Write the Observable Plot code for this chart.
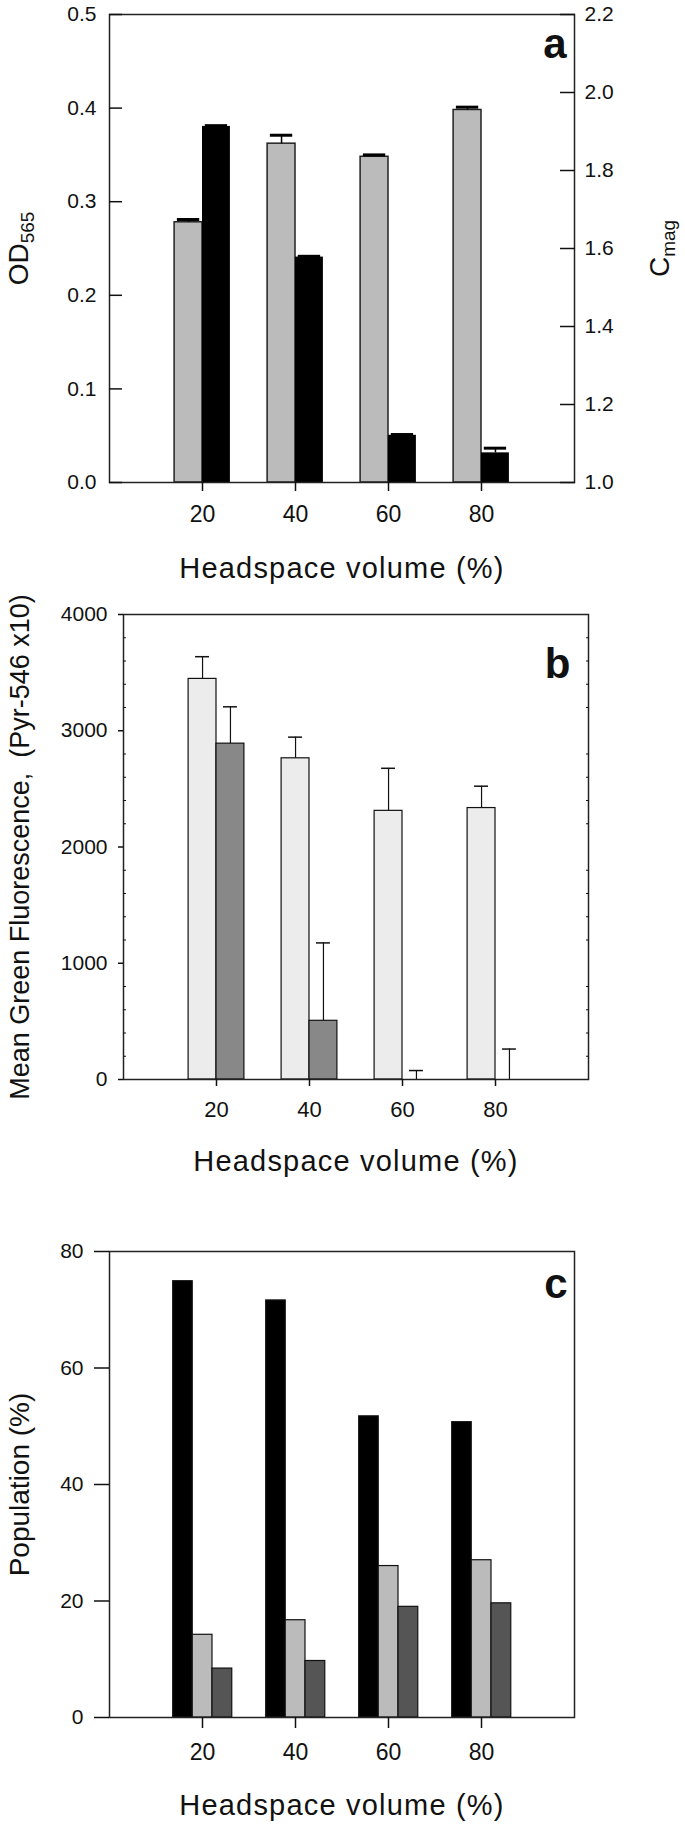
<!DOCTYPE html>
<html><head><meta charset="utf-8">
<script src="https://cdn.jsdelivr.net/npm/d3@7"></script>
<script src="https://cdn.jsdelivr.net/npm/@observablehq/plot@0.6"></script>
<style>
body{margin:0;background:#fff;}
#wrap{width:685px;}
#wrap svg{display:block;overflow:visible;}
</style></head><body><div id="wrap"></div>
<script>
// ---------- data ----------
const headspace = [20, 40, 60, 80];
const xTicks = [20, 40, 60, 80];
// Panel a
const odValues   = [0.278, 0.362, 0.348, 0.398];
const odErrors   = [0.003, 0.009, 0.002, 0.003];
const cmagValues = [1.913, 1.578, 1.121, 1.076];
const cmagErrors = [0.002, 0.002, 0.002, 0.012];
const odTicks    = [0, 0.1, 0.2, 0.3, 0.4, 0.5];
const cmagTicks  = [1.0, 1.2, 1.4, 1.6, 1.8, 2.0, 2.2];
// Panel b
const fluorLight    = [3446, 2763, 2311, 2335];
const fluorLightErr = [191, 182, 366, 188];
const fluorDark     = [2889, 505, 0, 0];
const fluorDarkErr  = [317, 670, 77, 262];
const fluorTicks    = [0, 1000, 2000, 3000, 4000];
const fluorMinor    = [200,400,600,800,1200,1400,1600,1800,2200,2400,2600,2800,3200,3400,3600,3800];
// Panel c
const popBlack = [74.9, 71.6, 51.7, 50.7];
const popLight = [14.2, 16.7, 26.0, 27.0];
const popDark  = [8.4, 9.7, 19.0, 19.6];
const popTicks = [0, 20, 40, 60, 80];

const xTitle = "Headspace volume (%)";
const FONT = "'Liberation Sans', Arial, sans-serif";
const wrap = document.getElementById("wrap");

// ---------- panel a ----------
const toOD = c => (c - 1) / 1.2 * 0.5;
const rowsA = headspace.map((h, i) => ({h, od: odValues[i], odE: odErrors[i], c: cmagValues[i], cE: cmagErrors[i]}));
const plotA = Plot.plot({
  width: 685, height: 600, marginTop: 14, marginBottom: 118, marginLeft: 109, marginRight: 111,
  style: {fontFamily: FONT, color: "#111", background: "#fff", overflow: "visible"},
  x: {domain: [0, 100]}, y: {domain: [0, 0.5]},
  marks: [
    Plot.rect(rowsA, {x1: d => d.h - 6, x2: d => d.h, y1: 0, y2: "od", fill: "#bbbbbb", stroke: "#222", strokeWidth: 1.5}),
    Plot.rect(rowsA, {x1: d => d.h, x2: d => d.h + 6, y1: 0, y2: d => toOD(d.c), fill: "#000"}),
    Plot.ruleX(rowsA, {x: d => d.h - 3, y1: "od", y2: d => d.od + d.odE, stroke: "#000", strokeWidth: 1.5}),
    Plot.ruleY(rowsA, {y: d => d.od + d.odE, x1: d => d.h - 5.4, x2: d => d.h - 0.6, stroke: "#000", strokeWidth: 3}),
    Plot.ruleX(rowsA, {x: d => d.h + 3, y1: d => toOD(d.c), y2: d => toOD(d.c + d.cE), stroke: "#000", strokeWidth: 1.5}),
    Plot.ruleY(rowsA, {y: d => toOD(d.c + d.cE), x1: d => d.h + 0.6, x2: d => d.h + 5.4, stroke: "#000", strokeWidth: 3}),
    Plot.frame({stroke: "#222", strokeWidth: 1.5}),
    Plot.axisY(odTicks, {tickSize: -13, tickFormat: () => "", label: null, strokeWidth: 1.5}),
    Plot.axisY(odTicks, {tickSize: 0, tickPadding: 13, fontSize: 21, tickFormat: d => d.toFixed(1), label: null}),
    Plot.axisY(cmagTicks.map(toOD), {anchor: "right", tickSize: -15, tickFormat: () => "", label: null, strokeWidth: 1.5}),
    Plot.axisY(cmagTicks.map(toOD), {anchor: "right", tickSize: 0, tickPadding: 10, fontSize: 21, tickFormat: v => (1 + v * 2.4).toFixed(1), label: null}),
    Plot.axisX(xTicks, {tickSize: 9, tickPadding: 14, fontSize: 23, label: null, strokeWidth: 1.5}),
    Plot.text([xTitle], {text: d => d, frameAnchor: "bottom", dy: 86, textAnchor: "middle", lineAnchor: "middle", fontSize: 29}),
    Plot.text(["OD565"], {text: d => d, frameAnchor: "left", dx: -90, rotate: -90, textAnchor: "middle", lineAnchor: "middle", fontSize: 28}),
    Plot.text(["Cmag"], {text: d => d, frameAnchor: "right", dx: 86, rotate: -90, textAnchor: "middle", lineAnchor: "middle", fontSize: 28}),
    Plot.text(["a"], {text: d => d, frameAnchor: "top-right", dx: -8, dy: 30, textAnchor: "end", lineAnchor: "middle", fontSize: 42, fontWeight: "bold"})
  ]
});
wrap.appendChild(plotA);

// ---------- panel b ----------
const rowsB = headspace.map((h, i) => ({h, l: fluorLight[i], lE: fluorLightErr[i], d: fluorDark[i], dE: fluorDarkErr[i]}));
const plotB = Plot.plot({
  width: 685, height: 600, marginTop: 14, marginBottom: 121, marginLeft: 123, marginRight: 97,
  style: {fontFamily: FONT, color: "#111", background: "#fff", overflow: "visible"},
  x: {domain: [0, 100]}, y: {domain: [0, 4000]},
  marks: [
    Plot.ruleX(rowsB, {x: d => d.h - 3, y1: "l", y2: d => d.l + d.lE, stroke: "#111", strokeWidth: 1.2}),
    Plot.ruleY(rowsB, {y: d => d.l + d.lE, x1: d => d.h - 4.5, x2: d => d.h - 1.5, stroke: "#111", strokeWidth: 1.5}),
    Plot.ruleX(rowsB, {x: d => d.h + 3, y1: "d", y2: d => d.d + d.dE, stroke: "#111", strokeWidth: 1.2}),
    Plot.ruleY(rowsB, {y: d => d.d + d.dE, x1: d => d.h + 1.5, x2: d => d.h + 4.5, stroke: "#111", strokeWidth: 1.5}),
    Plot.rect(rowsB, {x1: d => d.h - 6, x2: d => d.h, y1: 0, y2: "l", fill: "#ececec", stroke: "#111", strokeWidth: 1.2}),
    Plot.rect(rowsB, {x1: d => d.h, x2: d => d.h + 6, y1: 0, y2: "d", fill: "#888888", stroke: "#111", strokeWidth: 1.2}),
    Plot.frame({stroke: "#222", strokeWidth: 1.5}),
    Plot.axisY(fluorMinor, {tickSize: -3, tickFormat: () => "", label: null}),
    Plot.axisY(fluorMinor, {anchor: "right", tickSize: -3, tickFormat: () => "", label: null}),
    Plot.axisY(fluorTicks, {tickSize: 5, tickPadding: 11, fontSize: 21, tickFormat: d => String(d), label: null, strokeWidth: 1.5}),
    Plot.axisX(xTicks, {tickSize: 7, tickPadding: 15, fontSize: 22, label: null, strokeWidth: 1.5}),
    Plot.text([xTitle], {text: d => d, frameAnchor: "bottom", dy: 82, textAnchor: "middle", lineAnchor: "middle", fontSize: 29}),
    Plot.text(["Mean Green Fluorescence,  (Pyr-546 x10)"], {text: d => d, frameAnchor: "left", dx: -103, rotate: -90, textAnchor: "middle", lineAnchor: "middle", fontSize: 27}),
    Plot.text(["b"], {text: d => d, frameAnchor: "top-right", dx: -18, dy: 50, textAnchor: "end", lineAnchor: "middle", fontSize: 42, fontWeight: "bold"})
  ]
});
wrap.appendChild(plotB);

// ---------- panel c ----------
const rowsC = headspace.map((h, i) => ({h, k: popBlack[i], l: popLight[i], d: popDark[i]}));
const plotC = Plot.plot({
  width: 685, height: 626, marginTop: 51, marginBottom: 109, marginLeft: 109, marginRight: 111,
  style: {fontFamily: FONT, color: "#111", background: "#fff", overflow: "visible"},
  x: {domain: [0, 100]}, y: {domain: [0, 80]},
  marks: [
    Plot.rect(rowsC, {x1: d => d.h - 6.3, x2: d => d.h - 2.1, y1: 0, y2: "k", fill: "#000", stroke: "#111", strokeWidth: 1.2}),
    Plot.rect(rowsC, {x1: d => d.h - 2.1, x2: d => d.h + 2.15, y1: 0, y2: "l", fill: "#bbbbbb", stroke: "#111", strokeWidth: 1.2}),
    Plot.rect(rowsC, {x1: d => d.h + 2.15, x2: d => d.h + 6.4, y1: 0, y2: "d", fill: "#555555", stroke: "#111", strokeWidth: 1.2}),
    Plot.frame({stroke: "#222", strokeWidth: 1.5}),
    Plot.axisY(popTicks, {tickSize: 15, tickPadding: 11, fontSize: 21, label: null, strokeWidth: 1.5}),
    Plot.axisX(xTicks, {tickSize: 11, tickPadding: 15, fontSize: 23, label: null, strokeWidth: 1.5}),
    Plot.text([xTitle], {text: d => d, frameAnchor: "bottom", dy: 88, textAnchor: "middle", lineAnchor: "middle", fontSize: 29}),
    Plot.text(["Population (%)"], {text: d => d, frameAnchor: "left", dx: -89, rotate: -90, textAnchor: "middle", lineAnchor: "middle", fontSize: 28}),
    Plot.text(["c"], {text: d => d, frameAnchor: "top-right", dx: -7, dy: 33, textAnchor: "end", lineAnchor: "middle", fontSize: 42, fontWeight: "bold"})
  ]
});
wrap.appendChild(plotC);

// ---------- text touch-ups ----------
function subscript(svg, full, main, sub, subSize) {
  d3.select(svg).selectAll("text").filter(function() { return this.textContent === full; }).each(function() {
    const t = d3.select(this);
    t.text(null);
    t.append("tspan").text(main);
    t.append("tspan").attr("font-size", subSize).attr("dy", "0.3em").text(sub);
  });
}
subscript(plotA, "OD565", "OD", "565", 19);
subscript(plotA, "Cmag", "C", "mag", 19);
for (const svg of [plotA, plotB, plotC]) {
  d3.select(svg).selectAll("text").filter(function() { return this.textContent === xTitle; })
    .attr("letter-spacing", "1.2px");
}
</script></body></html>
